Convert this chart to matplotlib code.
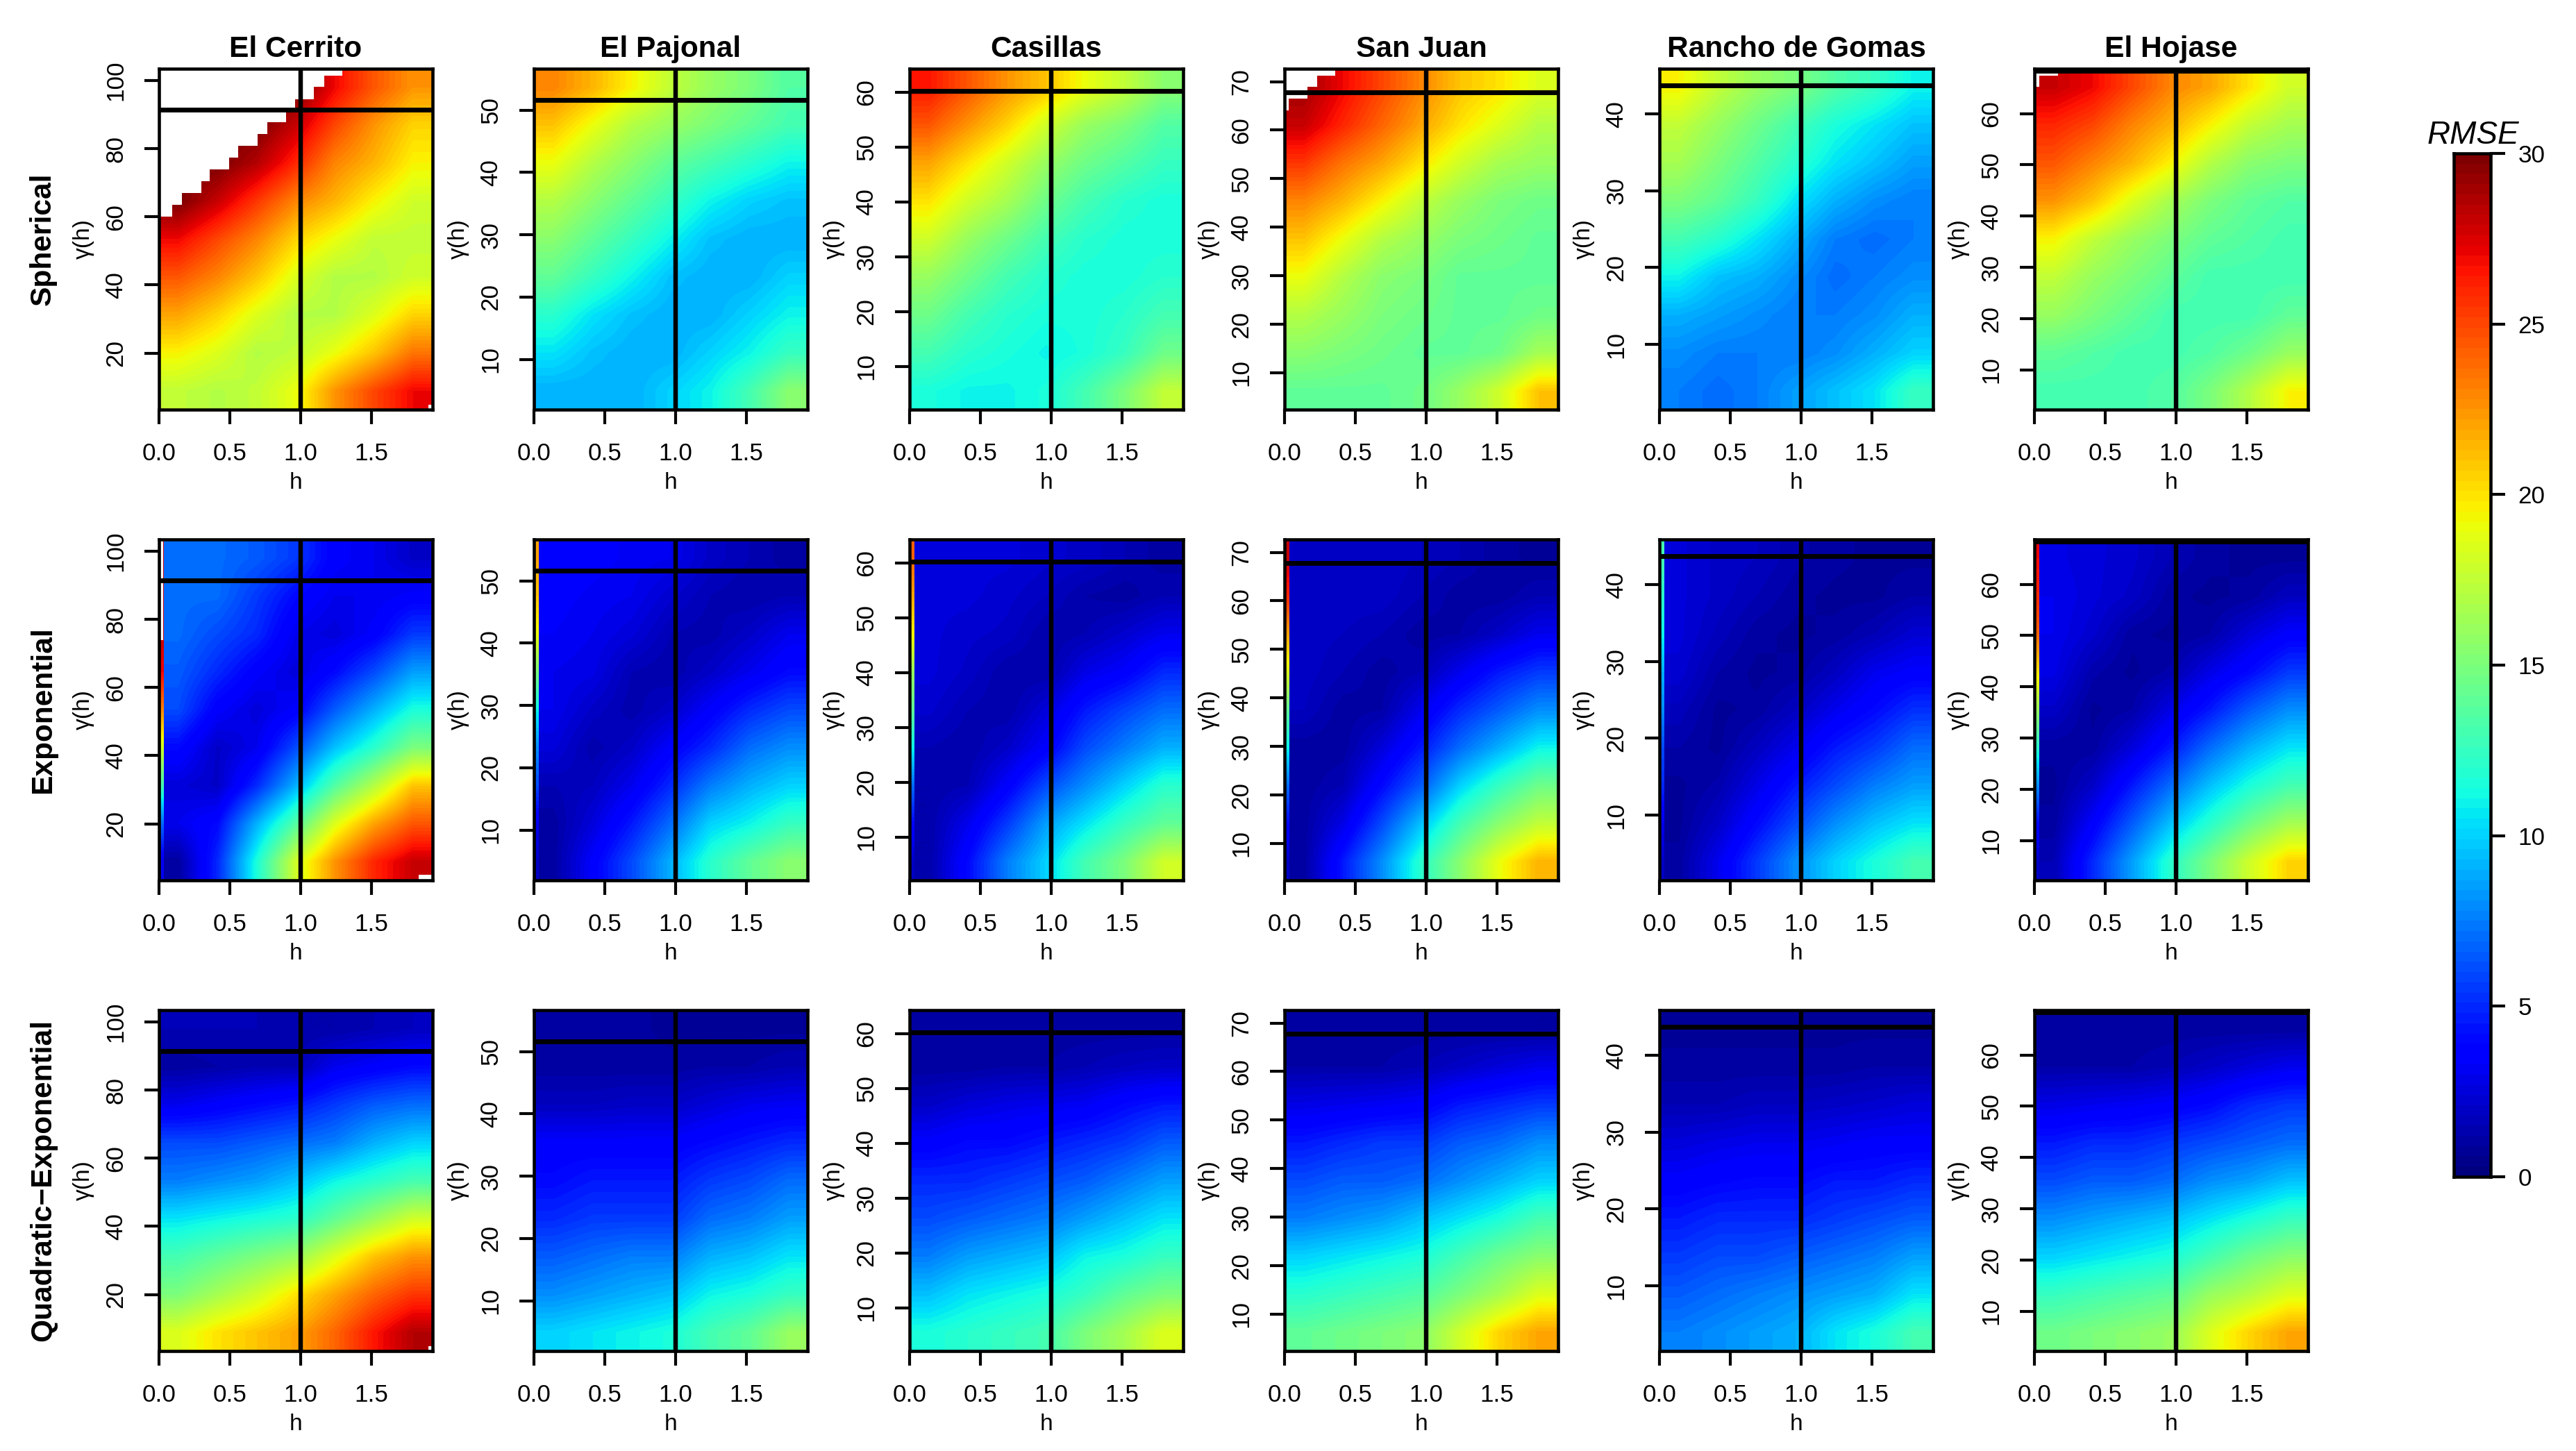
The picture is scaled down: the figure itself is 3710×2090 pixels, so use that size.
import numpy as np
import matplotlib
matplotlib.use('Agg')
import matplotlib.pyplot as plt

plt.rcParams['font.family'] = ['Liberation Sans', 'DejaVu Sans']

sites = ['El Cerrito', 'El Pajonal', 'Casillas', 'San Juan', 'Rancho de Gomas', 'El Hojase']
models = ['Spherical', 'Exponential', 'Quadratic\u2212Exponential']
ylims = [(3.4, 103.5), (1.93, 56.64), (2.14, 64.3), (2.4, 72.66), (1.5, 45.9), (2.27, 68.74)]
yticks = [[20, 40, 60, 80, 100], [10, 20, 30, 40, 50], [10, 20, 30, 40, 50, 60],
          [10, 20, 30, 40, 50, 60, 70], [10, 20, 30, 40], [10, 20, 30, 40, 50, 60]]
hlines = [91.4, 51.6, 60.2, 67.75, 43.74, 68.36]
xticks = [0.0, 0.5, 1.0, 1.5]
xmax = 1.93
cbar_ticks = [0, 5, 10, 15, 20, 25, 30]

# RMSE, rows top to bottom, columns left to right
sph_cerrito = [[30, 30, 30, 30, 27, 24.5, 22.5],
               [30, 30, 30, 28, 25, 22.5, 20.5],
               [30, 30, 28.5, 26, 23, 21.5, 19.5],
               [30, 28, 25.5, 23, 21.5, 19.5, 18],
               [27, 25, 23, 20.5, 19, 17.5, 17.5],
               [24.5, 23, 21, 18.5, 17, 17, 18],
               [22, 20.5, 18.5, 17, 17, 18.5, 20.5],
               [19.5, 18.5, 17, 17.5, 19, 21, 23.5],
               [17.5, 17, 17.5, 19, 22.5, 25, 27]]
sph_pajonal = [[23, 21.5, 19.5, 17.5, 16, 15, 13.5],
               [21, 19, 17, 16, 15, 14, 13],
               [19, 17, 15.5, 14, 13, 12, 11],
               [17, 15.5, 14, 12.5, 11, 10, 9.5],
               [15.5, 14, 12.5, 11, 9.5, 9, 9],
               [14, 12.5, 11, 9.5, 9, 9, 10],
               [12, 10.5, 9.5, 9, 9, 10, 11],
               [10.5, 9.5, 9, 9, 10, 11, 12.5],
               [9, 9, 9, 10, 11, 13, 15.5]]
sph_casillas = [[26.5, 24.5, 22.5, 21, 19, 17.5, 15.5],
                [24.5, 22.5, 20.5, 18, 16, 15, 13.5],
                [22, 20, 18, 16, 14.5, 13.5, 12.5],
                [20, 18, 16.5, 14.5, 13, 12, 11.5],
                [18, 16, 14.5, 13, 12, 11.5, 11.5],
                [16, 14.5, 13, 12, 11.5, 11.5, 12],
                [14.5, 13, 12, 11.5, 11.5, 12, 13],
                [13, 12, 11.5, 11, 11.5, 12.5, 14.5],
                [11.5, 11, 11, 11.5, 13, 15, 17.5]]
sph_sanjuan = [[29, 27, 25, 23, 21, 20, 18.5],
               [28, 26, 24, 22, 20, 18.5, 17],
               [25.5, 23.5, 22, 20, 18, 16.5, 16],
               [23, 21.5, 19.5, 17.5, 16, 15, 14.5],
               [21, 19, 17, 16, 15, 14.5, 14],
               [19, 17, 15.5, 15, 14, 14, 14],
               [17, 16, 15, 14.5, 14, 14, 14.5],
               [15.5, 15, 14.5, 14, 14, 14.5, 16.5],
               [14, 14, 14, 14.5, 16, 18, 21]]
sph_rancho = [[19.5, 17.5, 16, 15, 13.5, 12.5, 11],
              [17.5, 16, 14.5, 13, 11.5, 10.5, 9.5],
              [16.5, 15, 13.5, 12, 10.5, 9.5, 8.5],
              [15, 14, 12.5, 10.5, 9, 8, 7.5],
              [13, 12, 10.5, 9, 7.5, 7, 7.5],
              [11, 9.5, 9, 8, 7, 7.5, 8],
              [9, 8.5, 8, 7.5, 7.5, 8, 9],
              [8, 7.5, 7.5, 7.5, 8, 9, 10],
              [7.5, 7, 7.5, 8.5, 9.5, 10.5, 12.5]]
sph_hojase = [[28, 27, 25, 23, 22, 20, 18],
              [26, 25, 23, 21.5, 19.5, 17.5, 16.5],
              [24.5, 23, 21.5, 19.5, 17, 15.5, 15],
              [22.5, 21, 18.5, 16.5, 15, 14, 13.5],
              [19.5, 17.5, 16, 15, 14, 13.5, 13],
              [17.5, 16, 15, 14, 13, 13, 13],
              [16, 15, 14, 13, 13, 13, 14],
              [14, 13.5, 13, 13, 13.5, 14.5, 16],
              [13, 13, 13, 13.5, 15, 17, 19.5]]

exp_cerrito = [[7, 7, 6.5, 5.5, 3.5, 3, 2],
               [7, 7, 5.5, 4, 3, 3, 3.5],
               [7, 6, 5, 3, 2.5, 3.5, 5.5],
               [6.5, 5, 3.5, 2.5, 4, 6, 8.5],
               [6, 3.5, 2.5, 3.5, 6.5, 9, 11.5],
               [4, 2, 3, 6, 9.5, 12, 15],
               [2.5, 2, 5, 9, 13.5, 17, 21],
               [3, 4, 9, 13.5, 18.5, 22, 24.5],
               [1, 5, 11.5, 18, 22.5, 26, 28]]
exp_pajonal = [[3.5, 3.5, 3.2, 3, 2, 1.5, 1],
               [3.5, 3.2, 3, 2.2, 1.5, 1.2, 1.5],
               [3.3, 3, 2.5, 1.5, 1.3, 2, 3],
               [3, 2.8, 1.5, 1.2, 2, 3, 4],
               [3, 2, 1.3, 2, 3.5, 5, 6],
               [2.5, 1.3, 2, 3.5, 5, 7, 8],
               [1.5, 1.8, 3, 5, 7.5, 9, 10],
               [1, 2.5, 4.5, 7, 10, 11, 12.5],
               [1, 3.5, 6, 9, 12, 14, 15.5]]
exp_casillas = [[2.5, 2.5, 2.5, 2.2, 2, 1.5, 1],
                [2.5, 2.5, 2.2, 1.8, 1.2, 1, 1.5],
                [2.5, 2.2, 2, 1.2, 1.5, 2.2, 3],
                [2.5, 2, 1.2, 1.2, 2.8, 3.5, 5],
                [2.2, 1.5, 1.2, 2.5, 4.5, 5.8, 7],
                [1.5, 1.2, 2, 3.5, 6, 7.5, 9],
                [1.2, 1.5, 3.5, 6, 8, 10, 12],
                [1.2, 3, 5.5, 8.5, 10.5, 12.5, 14],
                [1.2, 4, 7.5, 10, 13, 15, 18]]
exp_sanjuan = [[2, 2, 2, 1.8, 1.5, 1, 0.8],
               [2, 2, 2, 1.5, 1, 1, 1.5],
               [2, 1.8, 1.5, 1, 1.2, 2, 3],
               [2, 1.5, 1, 1.5, 3, 4.5, 5.5],
               [1.8, 1, 1.2, 3, 5, 6.5, 8],
               [1, 1, 2.5, 4.5, 7, 9, 11],
               [1, 1.5, 4, 6.5, 10, 12.5, 14.5],
               [1, 2.8, 6, 9.5, 13, 15.5, 17.5],
               [1, 4.5, 8, 12, 15.5, 19, 21.5]]
exp_rancho = [[2.5, 2, 1.8, 1.3, 1, 0.8, 0.8],
              [2.5, 2, 1.5, 1, 0.8, 0.8, 1.2],
              [2.5, 1.7, 1, 0.8, 1, 1.5, 2.3],
              [2.3, 1.2, 0.8, 1, 1.8, 3, 3.5],
              [1.7, 0.8, 1, 1.8, 3, 4, 5.2],
              [1.2, 0.8, 1.8, 3, 4.5, 5.5, 7],
              [0.8, 1.3, 2.8, 4.5, 6, 7.5, 8.5],
              [0.8, 2, 4, 6, 8, 9.5, 10.5],
              [1, 3, 5.5, 8, 10, 11.5, 13]]
exp_hojase = [[2.8, 2.5, 2.2, 1.5, 1, 0.8, 0.8],
              [3, 2.5, 2, 1, 0.8, 1, 1.8],
              [3, 2.2, 1, 0.8, 1.2, 2.5, 3.5],
              [2.8, 1.3, 0.8, 1.3, 2.8, 4, 5.5],
              [2, 0.8, 1.2, 2.8, 4.5, 6.5, 8],
              [1, 1, 2.5, 4.5, 7, 9, 10.5],
              [0.8, 2, 4.5, 7, 9.5, 11.5, 13],
              [1, 3.5, 6.5, 9.5, 12, 14.5, 16.5],
              [1.5, 5, 8.5, 12, 15, 18, 20.5]]

# the thin first column of the exponential panels, top to bottom
strip_cerrito = [28, 28, 28, 27, 23, 18, 13, 7, 3]
strip_pajonal = [22, 21, 19, 15, 11, 8, 6, 3, 2]
strip_casillas = [24, 22, 19.5, 16, 14, 11, 7, 4, 2]
strip_sanjuan = [28, 26, 22, 18.5, 14, 11, 7, 4, 2]
strip_rancho = [13, 12, 11, 9, 8, 6, 5, 3, 2]
strip_hojase = [27, 26, 24, 20, 16, 12, 8, 4, 2]

quad_cerrito = [[1.5, 1.5, 1.5, 1.2, 1.2, 1.5, 1.8],
                [1, 1.2, 1.5, 1.5, 3, 3.5, 4],
                [3, 3.5, 4, 4.5, 5.5, 6.5, 7],
                [6, 6, 6.5, 7, 7.5, 9, 10],
                [7.5, 8, 8.5, 9.5, 11, 12, 13],
                [10.5, 11, 11.5, 12, 14, 16, 18],
                [13, 14, 15, 16, 18.5, 21, 22.5],
                [15, 16.5, 18, 20, 22, 24, 25.5],
                [18.5, 20, 21, 22, 24, 26.5, 28.5]]
quad_pajonal = [[1, 1, 1, 0.8, 0.8, 0.8, 0.8],
                [1, 1, 1, 1, 1.2, 1.2, 1.5],
                [1.8, 1.8, 2, 2, 2.5, 3, 3.2],
                [3.5, 3.5, 3.5, 3.5, 4, 4.5, 5],
                [4, 4.5, 4.5, 4.5, 5.5, 6, 7],
                [5, 5.5, 5.5, 5.5, 7, 7.5, 8.5],
                [6.5, 7, 7.5, 7.5, 9, 9.5, 10.5],
                [8, 8.5, 9, 9.5, 11, 11.5, 12.5],
                [10, 10.5, 11, 11.5, 13, 14, 16]]
quad_casillas = [[1, 1, 1, 1, 1, 1, 1],
                 [1, 1, 1.2, 1.2, 1.5, 1.8, 2],
                 [2, 2.5, 2.8, 3, 3.2, 4, 4.5],
                 [3.5, 4, 4, 4.5, 5, 5.5, 6.5],
                 [5, 5, 5.5, 6, 6.5, 7.5, 8.5],
                 [6, 6.5, 7, 7.5, 8.5, 9.5, 10.5],
                 [7.5, 8.5, 9, 9.5, 11, 11.5, 12.5],
                 [9.5, 10.5, 11, 11.5, 12.5, 14, 15],
                 [11.5, 12, 12.5, 13, 15, 16.5, 18.5]]
quad_sanjuan = [[1, 1, 1, 1, 1, 1, 0.9],
                [1.2, 1.2, 1.2, 1.5, 2, 2.5, 3],
                [2.8, 3, 3.2, 3.5, 4.5, 5, 5.5],
                [4.5, 5, 5.5, 5.5, 6.5, 7, 8],
                [6, 6.5, 6.5, 7, 8, 9, 10],
                [7.5, 8, 8.5, 9.5, 10.5, 11.5, 13],
                [10, 10.5, 11, 11.5, 13, 14.5, 15.5],
                [12, 12.5, 13, 13.5, 15, 16.5, 18.5],
                [14, 14.5, 15, 15.5, 18, 20.5, 22]]
quad_rancho = [[0.8, 0.8, 0.8, 0.8, 0.8, 0.8, 0.8],
               [1, 1, 1, 1, 1, 1.2, 1.2],
               [1.5, 1.5, 1.8, 1.8, 2, 2.2, 2.5],
               [2.5, 2.8, 3, 3, 3.2, 3.5, 3.5],
               [3.5, 3.8, 4, 4, 4.5, 4.5, 5],
               [4.5, 5, 5, 5, 5.5, 6, 6.5],
               [5.5, 6, 6, 6.5, 7, 7.5, 8.5],
               [6.5, 7, 7.5, 8, 8.5, 9, 10.5],
               [7.5, 8, 8.5, 9, 10.5, 11.5, 13]]
quad_hojase = [[1, 1, 1, 1, 1, 1, 1],
               [1.2, 1.2, 1.2, 1.5, 2, 2.5, 3],
               [2.8, 3, 3.2, 3.5, 4, 5, 5.5],
               [4.5, 5, 5, 5.5, 6, 6.5, 7],
               [6, 6.5, 6.5, 7, 8, 8.5, 9.5],
               [8, 8.5, 9, 9.5, 10.5, 11.5, 12.5],
               [10, 10.5, 11, 11.5, 13, 14.5, 15.5],
               [12.5, 13, 13.5, 14, 16, 17, 18.5],
               [14.5, 15, 15.5, 16, 18.5, 20.5, 22]]

grids = [[sph_cerrito, sph_pajonal, sph_casillas, sph_sanjuan, sph_rancho, sph_hojase],
         [exp_cerrito, exp_pajonal, exp_casillas, exp_sanjuan, exp_rancho, exp_hojase],
         [quad_cerrito, quad_pajonal, quad_casillas, quad_sanjuan, quad_rancho, quad_hojase]]
strips = [strip_cerrito, strip_pajonal, strip_casillas, strip_sanjuan, strip_rancho, strip_hojase]
strip_w = 0.03

# empty (NA) cells: gamma range and how far in h they reach
na_cerrito_lo = [101.4, 98.2, 94.6, 91.1, 87.8, 84.4, 80.9, 77.4, 74, 70.5, 67, 63.6, 60]
na_cerrito_hi = [103.5, 101.4, 98.2, 94.6, 91.1, 87.8, 84.4, 80.9, 77.4, 74, 70.5, 67, 63.6]
na_cerrito_h = [1.293, 1.164, 1.094, 0.961, 0.895, 0.762, 0.695, 0.559, 0.496, 0.359, 0.297, 0.164, 0.094]
na_sanjuan_lo = [71.2, 68.9, 66.5, 64.1]
na_sanjuan_hi = [72.66, 71.2, 68.9, 66.5]
na_sanjuan_h = [0.36, 0.23, 0.163, 0.03]
na_hojase_lo = [67.4, 65.2]
na_hojase_hi = [68.74, 67.4]
na_hojase_h = [0.166, 0.036]

W, H = 3711, 2090
lefts = [229, 769, 1310, 1850, 2390, 2930]
tops = [99, 777, 1455]
pw, ph = 394, 491

cmap = plt.get_cmap('jet').resampled(100)
fig = plt.figure(figsize=(W / 300, H / 300), dpi=300)


def box(l, t, w, h):
    return [l / W, 1 - (t + h) / H, w / W, h / H]


def ftext(x, y, s, **kw):
    fig.text(x / W, 1 - y / H, s, ha='center', va='center', **kw)


for r, top in enumerate(tops):
    for c, left in enumerate(lefts):
        ax = fig.add_axes(box(left, top, pw, ph))
        y0, y1 = ylims[c]
        ax.imshow(np.array(grids[r][c], dtype=float), extent=(0, xmax, y0, y1), aspect='auto',
                  origin='upper', cmap=cmap, vmin=0, vmax=30,
                  interpolation='bilinear', interpolation_stage='data')
        if r == 1:
            ax.imshow(np.array(strips[c], dtype=float).reshape(-1, 1), extent=(0, strip_w, y0, y1),
                      aspect='auto', origin='upper', cmap=cmap, vmin=0, vmax=30,
                      interpolation='bilinear', interpolation_stage='data')
        # empty cells
        if r == 0 and c == 0:
            ax.barh(na_cerrito_lo, na_cerrito_h, np.subtract(na_cerrito_hi, na_cerrito_lo),
                    align='edge', color='white', lw=0)
        if r == 0 and c == 3:
            ax.barh(na_sanjuan_lo, na_sanjuan_h, np.subtract(na_sanjuan_hi, na_sanjuan_lo),
                    align='edge', color='white', lw=0)
        if r == 0 and c == 5:
            ax.barh(na_hojase_lo, na_hojase_h, np.subtract(na_hojase_hi, na_hojase_lo),
                    align='edge', color='white', lw=0)
        if r == 1 and c == 0:
            ax.barh(74, strip_w, 30, align='edge', color='white', lw=0)
            ax.barh(y0, xmax - 1.83, 1.7, left=1.83, align='edge', color='white', lw=0)
        if r != 1 and c == 0:
            ax.barh(y0, xmax - 1.9, 1.5, left=1.9, align='edge', color='white', lw=0)

        ax.axvline(1.0, color='black', lw=1.55)
        ax.axhline(hlines[c], color='black', lw=1.65)
        ax.set_xlim(0, xmax)
        ax.set_ylim(y0, y1)
        ax.set_xticks(xticks)
        ax.set_xticklabels(['%.1f' % t for t in xticks])
        ax.set_yticks(yticks[c])
        ax.set_yticklabels([str(t) for t in yticks[c]], rotation=90, va='center')
        ax.tick_params(axis='x', length=5, width=1, labelsize=8.4, pad=6.2)
        ax.tick_params(axis='y', length=5, width=1, labelsize=8.4, pad=6)
        for s in ax.spines.values():
            s.set_linewidth(1.1)
        ftext(left + pw / 2, top + ph + 105, 'h', fontsize=8)
        ftext(left - 109, top + ph / 2, '\u03b3(h)', rotation=90, fontsize=8)
        if r == 0:
            ftext(left + pw / 2, 71, sites[c], fontsize=10.2, fontweight='bold')
    ftext(62, top + ph / 2, models[r], rotation=90, fontsize=10.2, fontweight='bold')

# colour bar
cax = fig.add_axes(box(3534, 221, 53, 1474))
cax.imshow(np.linspace(30, 0, 100).reshape(-1, 1), extent=(0, 1, 0, 30), aspect='auto',
           cmap=cmap, vmin=0, vmax=30, interpolation='nearest')
cax.set_xticks([])
cax.yaxis.tick_right()
cax.set_yticks(cbar_ticks)
cax.set_yticklabels([str(t) for t in cbar_ticks])
cax.tick_params(axis='y', length=5, width=1, labelsize=8.4, pad=4.5)
for s in cax.spines.values():
    s.set_linewidth(1.1)
fig.text(3562 / W, 1 - 207 / H, 'RMSE', ha='center', va='baseline', fontsize=11, style='italic')

fig.savefig('out.png', dpi=300)
